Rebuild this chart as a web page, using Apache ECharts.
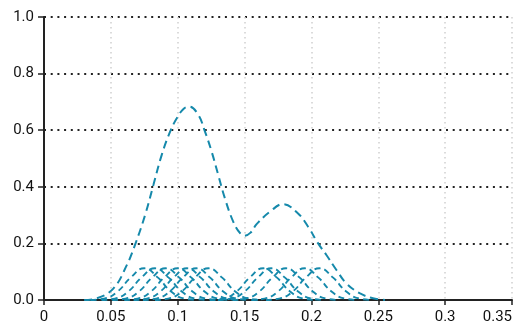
<!DOCTYPE html>
<html>
<head>
<meta charset="utf-8">
<script src="https://cdn.jsdelivr.net/npm/echarts@6/dist/echarts.min.js"></script>
<style>
html,body{margin:0;padding:0;background:#fff;}
#c{width:515px;height:330px;}
</style>
</head>
<body>
<div id="c"></div>
<script>
// Tick labels
const xTicks = [0, 0.05, 0.1, 0.15, 0.2, 0.25, 0.3, 0.35];
const xTickLabels = ['0', '0.05', '0.1', '0.15', '0.2', '0.25', '0.3', '0.35'];
const yTickLabels = ['0.0', '0.2', '0.4', '0.6', '0.8', '1.0'];

// Overall (summed) density curve
const mainX = [0.030, 0.0396, 0.052, 0.062, 0.068, 0.0756, 0.0818, 0.088, 0.0943, 0.0993, 0.1045, 0.1087, 0.1154, 0.1204, 0.1254, 0.1303, 0.1353, 0.1415, 0.1465, 0.150, 0.1545, 0.159, 0.169, 0.1788, 0.19, 0.1975, 0.205, 0.2112, 0.2187, 0.2261, 0.236, 0.246, 0.255];
const mainY = [0.000, 0.006, 0.041, 0.124, 0.194, 0.300, 0.406, 0.512, 0.595, 0.642, 0.676, 0.683, 0.654, 0.595, 0.524, 0.442, 0.359, 0.277, 0.237, 0.227, 0.238, 0.268, 0.312, 0.339, 0.306, 0.259, 0.200, 0.159, 0.106, 0.059, 0.024, 0.006, 0.000];

// Individual kernel bumps (x positions and heights)
const bumpY = [0, 0.005, 0.030, 0.080, 0.112, 0.080, 0.030, 0.005, 0];
const bump1X  = [0.035, 0.045, 0.055, 0.065, 0.075, 0.085, 0.095, 0.105, 0.115];
const bump2X  = [0.043, 0.053, 0.063, 0.073, 0.083, 0.093, 0.103, 0.113, 0.123];
const bump3X  = [0.051, 0.061, 0.071, 0.081, 0.091, 0.101, 0.111, 0.121, 0.131];
const bump4X  = [0.060, 0.070, 0.080, 0.090, 0.100, 0.110, 0.120, 0.130, 0.140];
const bump5X  = [0.067, 0.077, 0.087, 0.097, 0.107, 0.117, 0.127, 0.137, 0.147];
const bump6X  = [0.074, 0.084, 0.094, 0.104, 0.114, 0.124, 0.134, 0.144, 0.154];
const bump7X  = [0.083, 0.093, 0.103, 0.113, 0.123, 0.133, 0.143, 0.153, 0.163];
const bump8X  = [0.124, 0.134, 0.144, 0.154, 0.164, 0.174, 0.184, 0.194, 0.204];
const bump9X  = [0.130, 0.140, 0.150, 0.160, 0.170, 0.180, 0.190, 0.200, 0.210];
const bump10X = [0.141, 0.151, 0.161, 0.171, 0.181, 0.191, 0.201, 0.211, 0.221];
const bump11X = [0.155, 0.165, 0.175, 0.185, 0.195, 0.205, 0.215, 0.225, 0.235];
const bump12X = [0.166, 0.176, 0.186, 0.196, 0.206, 0.216, 0.226, 0.236, 0.246];
const bumpXs = [bump1X, bump2X, bump3X, bump4X, bump5X, bump6X, bump7X, bump8X, bump9X, bump10X, bump11X, bump12X];

const lineColor = '#1589ab';
const FONT = 'Roboto, "Noto Sans", sans-serif';

function pairs(xs, ys) { return xs.map((x, i) => [x, ys[i]]); }

const series = [];
bumpXs.forEach((xs) => {
  series.push({
    type: 'line', data: pairs(xs, bumpY), smooth: 0.5, symbol: 'none',
    lineStyle: { color: lineColor, width: 1.9, type: [6, 4] }, silent: true, z: 3
  });
});
series.push({
  type: 'line', data: pairs(mainX, mainY), smooth: 0.4, symbol: 'none',
  lineStyle: { color: lineColor, width: 2, type: [8, 5] }, silent: true, z: 4
});

const chart = echarts.init(document.getElementById('c'), null, { renderer: 'canvas' });
chart.setOption({
  animation: false,
  backgroundColor: '#fff',
  grid: { left: 44, right: 2, top: 17, bottom: 30, containLabel: false },
  xAxis: {
    type: 'value', min: 0, max: 0.35, interval: 0.05,
    axisLine: { show: true, onZero: false, lineStyle: { color: '#222', width: 2 } },
    axisTick: { show: true, length: 5, lineStyle: { color: '#222', width: 1.5 } },
    axisLabel: {
      margin: 10, color: '#111', fontSize: 15, fontFamily: FONT, alignMaxLabel: 'right',
      formatter: (v) => { const i = xTicks.findIndex(t => Math.abs(t - v) < 1e-9); return i >= 0 ? xTickLabels[i] : ''; }
    },
    splitLine: { show: true, lineStyle: { color: '#cfcfcf', width: 1.5, type: [1.5, 3.5] } }
  },
  yAxis: {
    type: 'value', min: 0, max: 1, interval: 0.2,
    axisLine: { show: true, lineStyle: { color: '#222', width: 2 } },
    axisTick: { show: true, length: 6, lineStyle: { color: '#222', width: 1.5 } },
    axisLabel: {
      margin: 10, color: '#111', fontSize: 15, fontFamily: FONT,
      formatter: (v) => yTickLabels[Math.round(v / 0.2)]
    },
    splitLine: { show: true, lineStyle: { color: '#222', width: 2, type: [2, 4.7] } }
  },
  series: series
});
</script>
</body>
</html>
